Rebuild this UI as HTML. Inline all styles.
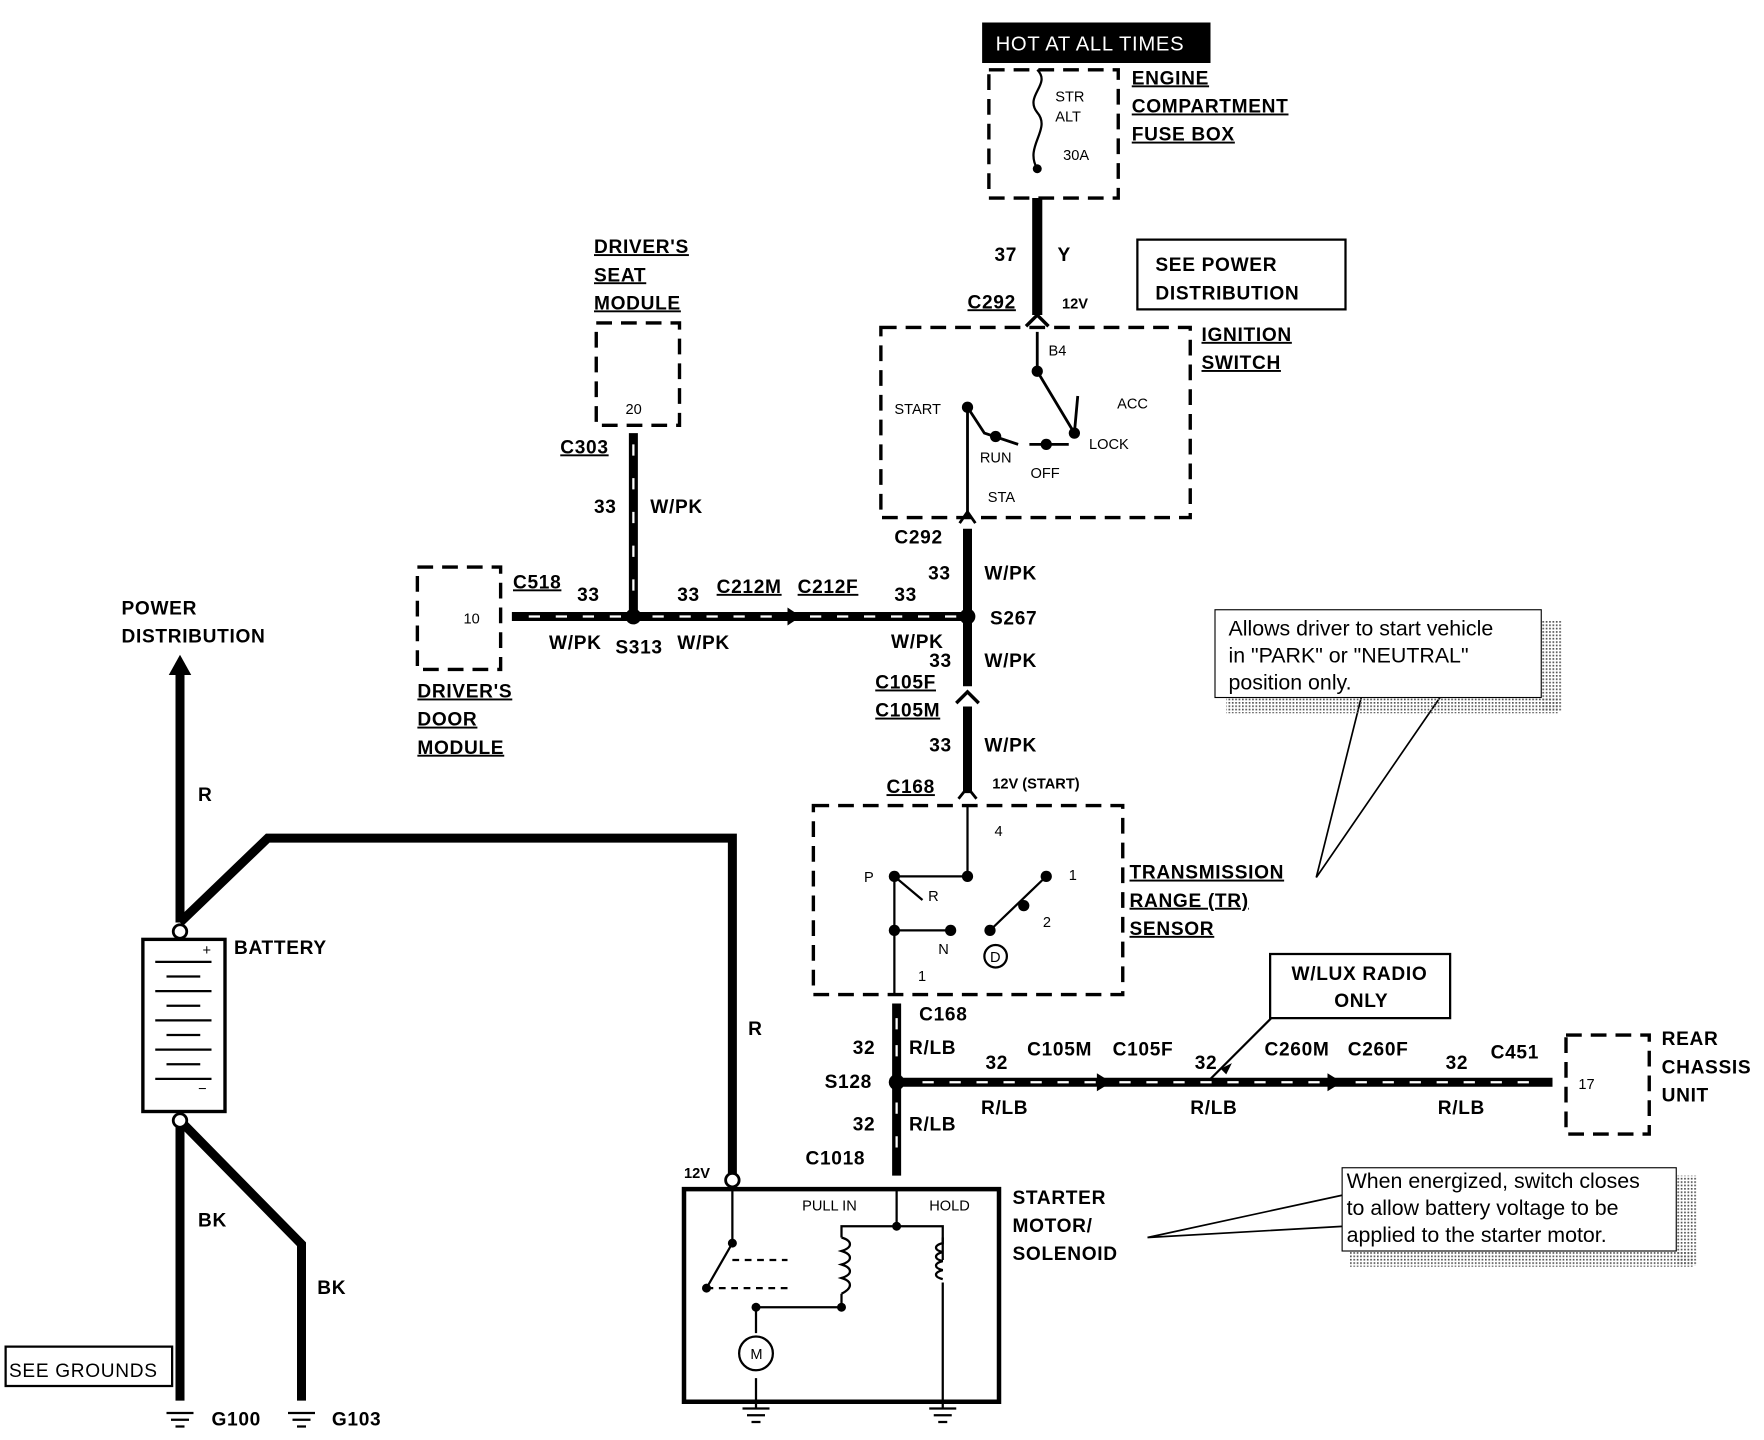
<!DOCTYPE html>
<html><head><meta charset="utf-8"><style>
html,body{margin:0;padding:0;background:#fff;}
svg{display:block;}
text{font-family:"Liberation Sans",Arial,sans-serif;font-weight:bold;fill:#000;}
.l{font-size:17px;letter-spacing:0.6px;}
.s{font-size:13px;font-weight:normal;}
.u{text-decoration:underline;}
.n{font-size:19px;font-weight:normal;}
</style></head><body>
<svg width="1764" height="1440" viewBox="0 0 1568 1280" xmlns="http://www.w3.org/2000/svg">
<defs>
<pattern id="dots" width="3" height="3" patternUnits="userSpaceOnUse"><rect width="1.5" height="1.5" fill="#555"/></pattern>
</defs>
<g fill="none" stroke="#000">
<rect x="879" y="62" width="115" height="114" stroke-width="3" stroke-dasharray="14,8"/>
<path d="M922 150 C910 130 935 115 922 100 C910 85 935 75 922 62" stroke-width="2"/>
<line x1="922" y1="176" x2="922" y2="280" stroke-width="9"/>
<path d="M912 290 L922 280 L932 290" stroke-width="3"/>
<rect x="783" y="291" width="275" height="169" stroke-width="3" stroke-dasharray="14,8"/>
<path d="M922 295 V330 L955 385 M860 362 V460 M955 385 L958 352" stroke-width="2.5"/>
<path d="M860 362 L875 385 L905 395 M915 395 H950" stroke-width="2.5"/>
<path d="M853 465 L860 455 L867 465" stroke-width="2.5"/>
<line x1="860" y1="470" x2="860" y2="548" stroke-width="8"/>
<line x1="860" y1="548" x2="860" y2="610" stroke-width="8"/>
<line x1="860" y1="628" x2="860" y2="705" stroke-width="8"/>
<path d="M850 625 L860 615 L870 625" stroke-width="3"/>
<path d="M852 710 L860 700 L868 710" stroke-width="2.5"/>
<line x1="455" y1="548" x2="860" y2="548" stroke-width="8"/>
<line x1="563" y1="385" x2="563" y2="548" stroke-width="8"/>
<rect x="530" y="287" width="74" height="91" stroke-width="3" stroke-dasharray="14,8"/>
<rect x="371" y="504" width="74" height="91" stroke-width="3" stroke-dasharray="14,8"/>
<rect x="723" y="716" width="275" height="168" stroke-width="3" stroke-dasharray="14,8"/>
<path d="M860 716 V779 H795 V885 M795 827 H845 M795 779 L820 800 M880 827 L930 779" stroke-width="2"/>
<line x1="797" y1="892" x2="797" y2="1045" stroke-width="8"/>
<line x1="797" y1="962" x2="1380" y2="962" stroke-width="8"/>
<rect x="1392" y="920" width="74" height="88" stroke-width="3" stroke-dasharray="14,8"/>
<rect x="608" y="1057" width="280" height="189" stroke-width="4"/>
<path d="M651 1057 V1105 L628 1145 M797 1057 V1090 H748 V1100 M748 1150 V1162 H672 V1185 M797 1090 H838 V1120 M838 1140 V1246 M672 1225 V1246" stroke-width="2"/>
<path d="M748 1100 c10 3 10 9 0 12 c10 3 10 9 0 12 c10 3 10 9 0 12 c10 3 10 9 0 14 M838 1100 V1105 c-8 2 -8 6 0 8 c-8 2 -8 6 0 8 c-8 2 -8 6 0 8 c-8 2 -8 6 0 8" stroke-width="2"/>
<path d="M628 1145 H700 M651 1120 L700 1120" stroke-width="2" stroke-dasharray="6,5"/>
<circle cx="672" cy="1203" r="15" stroke-width="2"/>
<path d="M160 820 V595" stroke-width="8"/>
<path d="M160 820 L238 745 H651 V1049" stroke-width="8"/>
<circle cx="651" cy="1049" r="6" fill="#fff" stroke-width="2.5"/>
<rect x="127" y="835" width="73" height="153" stroke-width="3"/>
<path d="M160 996 V1245 M160 996 L268 1106 V1245" stroke-width="8"/>
<circle cx="160" cy="828" r="6" fill="#fff" stroke-width="2.5"/>
<circle cx="160" cy="996" r="6" fill="#fff" stroke-width="2.5"/>
<path d="M148 1256 H172 M152 1262 H168 M156 1268 H164 M256 1256 H280 M260 1262 H276 M264 1268 H272 M660 1252 H684 M664 1258 H680 M668 1264 H676 M826 1252 H850 M830 1258 H846 M834 1264 H842 M672 1246 V1252 M838 1246 V1252" stroke-width="2"/>
<rect x="1011" y="213" width="185" height="62" stroke-width="2"/>
<rect x="1129" y="848" width="160" height="57" stroke-width="2"/>
<rect x="5" y="1197" width="148" height="35" stroke-width="2"/>
<line x1="1075" y1="960" x2="1130" y2="905" stroke-width="2"/>
<path d="M1170 780 L1210 620 M1170 780 L1280 620 M1020 1100 L1195 1062 M1020 1100 L1195 1090" stroke-width="1.5"/>
</g>
<rect x="1090" y="620" width="295" height="14" fill="url(#dots)"/>
<rect x="1370" y="552" width="18" height="80" fill="url(#dots)"/>
<rect x="1080" y="542" width="290" height="78" fill="#fff" stroke="#000"/>
<rect x="1200" y="1112" width="305" height="14" fill="url(#dots)"/>
<rect x="1490" y="1045" width="18" height="80" fill="url(#dots)"/>
<rect x="1193" y="1038" width="297" height="74" fill="#fff" stroke="#000"/>
<g stroke="#fff" stroke-width="2">
<line x1="470" y1="548" x2="555" y2="548" stroke-dasharray="10,14"/>
<line x1="580" y1="548" x2="700" y2="548" stroke-dasharray="10,14"/>
<line x1="720" y1="548" x2="850" y2="548" stroke-dasharray="10,14"/>
<line x1="820" y1="962" x2="980" y2="962" stroke-dasharray="10,14"/>
<line x1="995" y1="962" x2="1185" y2="962" stroke-dasharray="10,14"/>
<line x1="1205" y1="962" x2="1370" y2="962" stroke-dasharray="10,14"/>
<line x1="563" y1="395" x2="563" y2="540" stroke-dasharray="10,20"/>
<line x1="797" y1="905" x2="797" y2="950" stroke-dasharray="10,14"/>
<line x1="797" y1="980" x2="797" y2="1040" stroke-dasharray="10,20"/>
</g>
<g fill="#000">
<circle cx="563" cy="548" r="7"/><circle cx="860" cy="548" r="7"/><circle cx="797" cy="962" r="7"/>
<circle cx="922" cy="150" r="4"/><circle cx="922" cy="330" r="5"/><circle cx="955" cy="385" r="5"/><circle cx="930" cy="395" r="5"/><circle cx="860" cy="362" r="5"/><circle cx="885" cy="388" r="5"/>
<circle cx="795" cy="779" r="5"/><circle cx="860" cy="779" r="5"/><circle cx="795" cy="827" r="5"/><circle cx="845" cy="827" r="5"/><circle cx="880" cy="827" r="5"/><circle cx="930" cy="779" r="5"/><circle cx="910" cy="805" r="5"/>
<circle cx="651" cy="1105" r="4"/><circle cx="628" cy="1145" r="4"/><circle cx="672" cy="1162" r="4"/><circle cx="748" cy="1162" r="4"/><circle cx="797" cy="1090" r="4"/>
<path d="M160 582 L150 600 H170Z"/>
<path d="M700 540 L712 548 L700 556Z"/><path d="M975 954 L988 962 L975 970Z"/><path d="M1180 954 L1193 962 L1180 970Z"/>
<path d="M1085 950 L1095 945 L1090 955Z"/>
</g>
<circle cx="885" cy="850" r="10" fill="none" stroke="#000" stroke-width="2"/>
<g stroke="#000" stroke-width="2">
<line x1="138" y1="855" x2="188" y2="855"/><line x1="148" y1="868" x2="178" y2="868"/><line x1="138" y1="881" x2="188" y2="881"/><line x1="148" y1="894" x2="178" y2="894"/><line x1="138" y1="907" x2="188" y2="907"/><line x1="148" y1="920" x2="178" y2="920"/><line x1="138" y1="933" x2="188" y2="933"/><line x1="148" y1="946" x2="178" y2="946"/><line x1="138" y1="959" x2="188" y2="959"/>
</g>
<rect x="873" y="20" width="203" height="36" fill="#000"/>
<text x="885" y="45" class="l" style="fill:#fff;font-weight:normal;font-size:18px">HOT AT ALL TIMES</text>
<text class="l u" x="1006" y="75">ENGINE</text><text class="l u" x="1006" y="100">COMPARTMENT</text><text class="l u" x="1006" y="125">FUSE BOX</text>
<text class="s" x="938" y="90">STR</text><text class="s" x="938" y="108">ALT</text><text class="s" x="945" y="142">30A</text>
<text class="l" x="884" y="232">37</text><text class="l" x="940" y="232">Y</text>
<text class="l u" x="860" y="274">C292</text><text class="s" x="944" y="274" style="font-weight:bold">12V</text>
<text class="l" x="1027" y="241">SEE POWER</text><text class="l" x="1027" y="266">DISTRIBUTION</text>
<text class="l u" x="1068" y="303">IGNITION</text><text class="l u" x="1068" y="328">SWITCH</text>
<text class="s" x="932" y="316">B4</text><text class="s" x="795" y="368">START</text><text class="s" x="993" y="363">ACC</text><text class="s" x="968" y="399">LOCK</text><text class="s" x="871" y="411">RUN</text><text class="s" x="916" y="425">OFF</text><text class="s" x="878" y="446">STA</text>
<text class="l" x="795" y="483">C292</text><text class="l" x="825" y="515">33</text><text class="l" x="875" y="515">W/PK</text><text class="l" x="880" y="555">S267</text>
<text class="l u" x="528" y="225">DRIVER'S</text><text class="l u" x="528" y="250">SEAT</text><text class="l u" x="528" y="275">MODULE</text>
<text class="s" x="556" y="368">20</text><text class="l u" x="498" y="403">C303</text>
<text class="l" x="528" y="456">33</text><text class="l" x="578" y="456">W/PK</text>
<text class="s" x="412" y="554">10</text><text class="l u" x="456" y="523">C518</text><text class="l" x="513" y="534">33</text>
<text class="l" x="602" y="534">33</text><text class="l u" x="637" y="527">C212M</text><text class="l u" x="709" y="527">C212F</text><text class="l" x="795" y="534">33</text>
<text class="l" x="488" y="577">W/PK</text><text class="l" x="547" y="581">S313</text><text class="l" x="602" y="577">W/PK</text><text class="l" x="792" y="576">W/PK</text>
<text class="l u" x="371" y="620">DRIVER'S</text><text class="l u" x="371" y="645">DOOR</text><text class="l u" x="371" y="670">MODULE</text>
<text class="l" x="826" y="593">33</text><text class="l" x="875" y="593">W/PK</text>
<text class="l u" x="778" y="612">C105F</text><text class="l u" x="778" y="637">C105M</text>
<text class="l" x="826" y="668">33</text><text class="l" x="875" y="668">W/PK</text>
<text class="l u" x="788" y="705">C168</text><text class="s" x="882" y="701" style="font-weight:bold">12V (START)</text>
<text class="s" x="884" y="743">4</text><text class="s" x="768" y="784">P</text><text class="s" x="950" y="782">1</text><text class="s" x="825" y="801">R</text><text class="s" x="927" y="824">2</text><text class="s" x="834" y="848">N</text><text class="s" x="880" y="855">D</text><text class="s" x="816" y="872">1</text>
<text class="l u" x="1004" y="781">TRANSMISSION</text><text class="l u" x="1004" y="806">RANGE (TR)</text><text class="l u" x="1004" y="831">SENSOR</text>
<text class="n" x="1092" y="565">Allows driver to start vehicle</text><text class="n" x="1092" y="589">in "PARK" or "NEUTRAL"</text><text class="n" x="1092" y="613">position only.</text>
<text class="l" x="817" y="907">C168</text><text class="l" x="758" y="937">32</text><text class="l" x="808" y="937">R/LB</text>
<text class="l" x="733" y="967">S128</text><text class="l" x="758" y="1005">32</text><text class="l" x="808" y="1005">R/LB</text><text class="l" x="716" y="1035">C1018</text>
<text class="l" x="876" y="950">32</text><text class="l" x="913" y="938">C105M</text><text class="l" x="989" y="938">C105F</text><text class="l" x="1062" y="950">32</text><text class="l" x="1124" y="938">C260M</text><text class="l" x="1198" y="938">C260F</text><text class="l" x="1285" y="950">32</text><text class="l" x="1325" y="941">C451</text>
<text class="l" x="872" y="990">R/LB</text><text class="l" x="1058" y="990">R/LB</text><text class="l" x="1278" y="990">R/LB</text>
<text class="l" x="1148" y="871">W/LUX RADIO</text><text class="l" x="1186" y="895">ONLY</text>
<text class="s" x="1403" y="968">17</text><text class="l" x="1477" y="929">REAR</text><text class="l" x="1477" y="954">CHASSIS</text><text class="l" x="1477" y="979">UNIT</text>
<text class="s" x="608" y="1047" style="font-weight:bold">12V</text>
<text class="s" x="713" y="1076">PULL IN</text><text class="s" x="826" y="1076">HOLD</text><text class="s" x="667" y="1208">M</text>
<text class="l" x="900" y="1070">STARTER</text><text class="l" x="900" y="1095">MOTOR/</text><text class="l" x="900" y="1120">SOLENOID</text>
<text class="n" x="1197" y="1056">When energized, switch closes</text><text class="n" x="1197" y="1080">to allow battery voltage to be</text><text class="n" x="1197" y="1104">applied to the starter motor.</text>
<text class="l" x="108" y="546">POWER</text><text class="l" x="108" y="571">DISTRIBUTION</text><text class="l" x="176" y="712">R</text>
<text class="l" x="208" y="848">BATTERY</text><text class="s" x="180" y="849">+</text><text class="s" x="176" y="972">−</text>
<text class="l" x="665" y="920">R</text><text class="l" x="176" y="1090">BK</text><text class="l" x="282" y="1150">BK</text>
<text class="l" x="8" y="1224" style="font-weight:normal">SEE GROUNDS</text>
<text class="l" x="188" y="1267">G100</text><text class="l" x="295" y="1267">G103</text>
</svg>
</body></html>
